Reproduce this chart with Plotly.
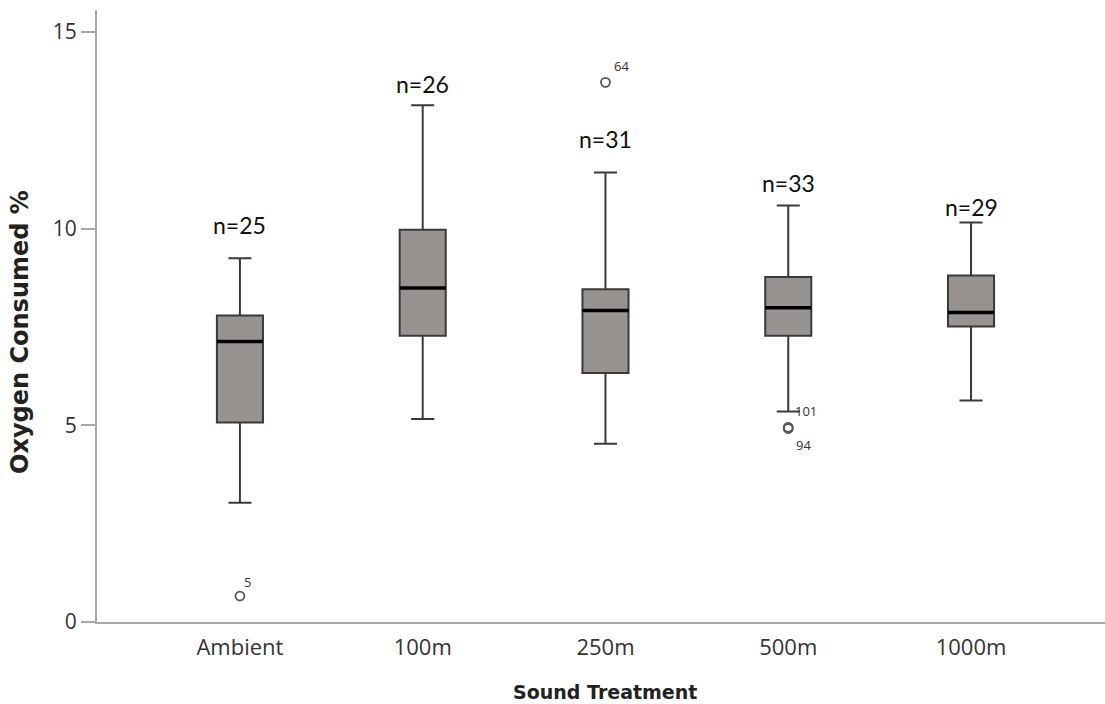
import plotly.graph_objects as go

# Five-number summaries of oxygen consumption per sound treatment
categories = ["Ambient", "100m", "250m", "500m", "1000m"]
n_counts = [25, 26, 31, 33, 29]
whisker_low = [3.03, 5.16, 4.53, 5.35, 5.63]
q1 = [5.07, 7.28, 6.33, 7.28, 7.51]
median = [7.13, 8.49, 7.92, 7.99, 7.87]
q3 = [7.79, 9.97, 8.46, 8.77, 8.81]
whisker_high = [9.25, 13.14, 11.43, 10.59, 10.16]

# Outlying cases: group index, value, case number
outlier_group = [0, 2, 3, 3]
outlier_value = [0.66, 13.72, 4.95, 4.92]
outlier_case = ["5", "64", "101", "94"]

# Vertical placement of the sample-size labels
n_label_y = [10.1, 13.68, 12.27, 11.17, 10.56]

y_ticks = [0, 5, 10, 15]

BOX_W = 0.252
FILL = "#979391"
EDGE = "#3a3a3a"

fig = go.Figure()

for i, cat in enumerate(categories):
    fig.add_trace(go.Box(
        x=[i], q1=[q1[i]], median=[median[i]], q3=[q3[i]],
        lowerfence=[whisker_low[i]], upperfence=[whisker_high[i]],
        width=BOX_W, whiskerwidth=0.5,
        fillcolor=FILL, line=dict(color=EDGE, width=2),
        boxpoints=False, showlegend=False, hoverinfo="skip",
    ))

# Heavy median bars
for i in range(len(categories)):
    fig.add_trace(go.Scatter(
        x=[i - BOX_W / 2, i + BOX_W / 2], y=[median[i], median[i]],
        mode="lines", line=dict(color="#000000", width=3.5),
        showlegend=False, hoverinfo="skip",
    ))

# Outliers as open circles
fig.add_trace(go.Scatter(
    x=outlier_group, y=outlier_value, mode="markers",
    marker=dict(symbol="circle-open", size=9, color="#555555",
                line=dict(width=1.8, color="#555555")),
    showlegend=False, hoverinfo="skip",
))

annotations = []
case_offsets = {"5": (8, 14), "64": (16, 16), "101": (18, 16), "94": (15, -17)}
for g, v, c in zip(outlier_group, outlier_value, outlier_case):
    dx, dy = case_offsets[c]
    annotations.append(dict(
        x=g, y=v, text=c, showarrow=False, xshift=dx, yshift=dy,
        font=dict(family="Open Sans", size=13, color="#333333"),
    ))

for i, n in enumerate(n_counts):
    annotations.append(dict(
        x=i, y=n_label_y[i], text=f"n={n}", showarrow=False,
        font=dict(family="Lato", size=23, color="#111111"),
    ))

# Axis titles
annotations.append(dict(
    x=2, xref="x", y=0, yref="paper", yshift=-70,
    xanchor="center", yanchor="middle", text="<b>Sound Treatment</b>",
    showarrow=False, font=dict(family="DejaVu Sans", size=19, color="#222222"),
))
annotations.append(dict(
    x=0, xref="paper", xshift=-77, y=0.5, yref="paper", yshift=-16,
    xanchor="center", yanchor="middle",
    text="<b>Oxygen Consumed %</b>", textangle=-90, showarrow=False,
    font=dict(family="DejaVu Sans", size=24, color="#222222"),
))

fig.update_layout(
    width=1105, height=704,
    margin=dict(l=97, r=0, t=10, b=81.5),
    paper_bgcolor="white", plot_bgcolor="white",
    annotations=annotations,
    xaxis=dict(
        range=[-0.782, 4.733], tickvals=list(range(len(categories))),
        ticktext=categories, showgrid=False, zeroline=False,
        showline=True, linecolor="#a8a8a8", linewidth=2, ticks="",
        ticklabelstandoff=5,
        tickfont=dict(family="Open Sans", size=22, color="#333333"),
    ),
    yaxis=dict(
        range=[0, 15.56], tickvals=y_ticks, showgrid=False, zeroline=False,
        showline=True, linecolor="#a8a8a8", linewidth=2,
        ticks="outside", ticklen=14, tickwidth=1.5, tickcolor="#a8a8a8",
        tickfont=dict(family="Open Sans", size=21, color="#333333"),
    ),
)

fig.write_html("out.html")
